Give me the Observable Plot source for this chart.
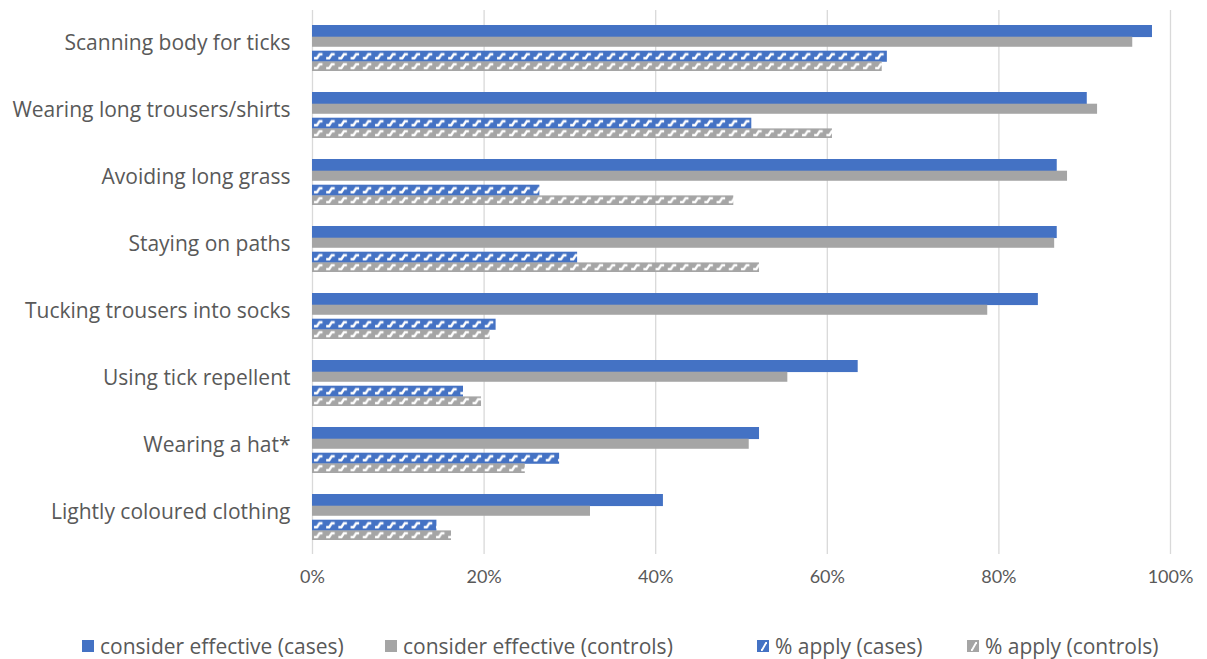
<!DOCTYPE html>
<html>
<head>
<meta charset="utf-8">
<script src="https://cdn.jsdelivr.net/npm/d3@7"></script>
<script src="https://cdn.jsdelivr.net/npm/@observablehq/plot@0.6"></script>
<style>
  html, body { margin: 0; padding: 0; background: #fff; }
  #wrap { position: relative; width: 1207px; height: 659px; font-family: "Open Sans", Lato, sans-serif; }
  #legend { position: absolute; left: 0; top: 632px; width: 1207px; height: 27px; color: #595959; font-size: 21px; }
  .item { position: absolute; top: 0; display: flex; align-items: center; white-space: nowrap; }
  .item svg { margin-right: 6px; }
</style>
</head>
<body>
<div id="wrap">
  <div id="chart"></div>
  <div id="legend"></div>
</div>
<script>
const categories = [
  "Scanning body for ticks",
  "Wearing long trousers/shirts",
  "Avoiding long grass",
  "Staying on paths",
  "Tucking trousers into socks",
  "Using tick repellent",
  "Wearing a hat*",
  "Lightly coloured clothing"
];
const considerCases    = [97.9, 90.3, 86.8, 86.8, 84.6, 63.6, 52.1, 40.9];
const considerControls = [95.6, 91.5, 88.0, 86.5, 78.7, 55.4, 50.9, 32.4];
const applyCases       = [67.0, 51.2, 26.5, 30.9, 21.4, 17.6, 28.8, 14.5];
const applyControls    = [66.4, 60.6, 49.1, 52.1, 20.7, 19.7, 24.8, 16.2];
const xTicks = [0, 20, 40, 60, 80, 100];
const seriesNames = ["consider effective (cases)", "consider effective (controls)", "% apply (cases)", "% apply (controls)"];

const BLUE = "#4472C4", GRAY = "#A5A5A5";

const rows = (vals) => categories.map((c, i) => ({category: c, value: vals[i]}));

// band layout within each category
const step = 67.1, pInner = 0.32, pOuter = 0.213;
const B = step * (1 - pInner);
const slots = [[0, 11.7], [11.7, 21.4], [25.7, 36.4], [36.4, B]];
const inset = (k) => ({insetTop: slots[k][0], insetBottom: B - slots[k][1]});

const chart = Plot.plot({
  width: 1207,
  height: 610,
  marginLeft: 312,
  marginRight: 37,
  marginTop: 10,
  marginBottom: 56,
  style: {fontFamily: "'Open Sans', Lato, sans-serif", fontSize: "18px", color: "#595959", background: "#fff"},
  x: {domain: [0, 100]},
  y: {domain: categories, paddingInner: pInner, paddingOuter: pOuter},
  marks: [
    Plot.gridX(xTicks, {stroke: "#d9d9d9", strokeOpacity: 1, strokeWidth: 1.3}),
    Plot.barX(rows(considerCases), {x: "value", y: "category", fill: BLUE, ...inset(0)}),
    Plot.barX(rows(considerControls), {x: "value", y: "category", fill: GRAY, ...inset(1)}),
    Plot.barX(rows(applyCases), {x: "value", y: "category", fill: BLUE, className: "hatch-blue", ...inset(2)}),
    Plot.barX(rows(applyControls), {x: "value", y: "category", fill: GRAY, className: "hatch-gray", ...inset(3)}),
    Plot.axisX(xTicks, {tickSize: 0, tickPadding: 16, tickFormat: d => d + "%", label: null, fill: "#595959", fontSize: 18, fontFamily: "Lato, sans-serif"}),
    Plot.axisY({tickSize: 0, tickPadding: 22, label: null, fill: "#595959", fontSize: 21, dy: -5})
  ]
});
document.getElementById("chart").appendChild(chart);

// hatch patterns, one per bar aligned to its top edge
const ns = "http://www.w3.org/2000/svg";
const defs = document.createElementNS(ns, "defs");
chart.insertBefore(defs, chart.firstChild);
let pid = 0;
function hatchFor(rect, color) {
  const y = +rect.getAttribute("y");
  const h = +rect.getAttribute("height");
  const x = +rect.getAttribute("x");
  const id = "hatch" + (pid++);
  const p = document.createElementNS(ns, "pattern");
  p.setAttribute("id", id);
  p.setAttribute("patternUnits", "userSpaceOnUse");
  p.setAttribute("x", x + 1);
  p.setAttribute("y", y);
  p.setAttribute("width", 12.2);
  p.setAttribute("height", h);
  const bg = document.createElementNS(ns, "rect");
  bg.setAttribute("width", 12.2); bg.setAttribute("height", h); bg.setAttribute("fill", color);
  p.appendChild(bg);
  const m = h / 2;
  const path = document.createElementNS(ns, "path");
  path.setAttribute("d", `M1,${m + 2} H4 L6.5,${m - 2} H9.5`);
  path.setAttribute("stroke", "#fff");
  path.setAttribute("stroke-width", 2.4);
  path.setAttribute("fill", "none");
  p.appendChild(path);
  defs.appendChild(p);
  rect.setAttribute("fill", `url(#${id})`);
}
chart.querySelectorAll(".hatch-blue rect").forEach(r => hatchFor(r, BLUE));
chart.querySelectorAll(".hatch-gray rect").forEach(r => hatchFor(r, GRAY));

// legend
const legendPos = [82, 385, 757, 967];
const legendFill = [BLUE, GRAY, BLUE, GRAY];
const legendHatch = [false, false, true, true];
const legend = document.getElementById("legend");
seriesNames.forEach((name, i) => {
  const item = document.createElement("div");
  item.className = "item";
  item.style.left = legendPos[i] + "px";
  const hatch = legendHatch[i]
    ? `<path d="M4,10 L5,10 L9,3 L10,3" stroke="#fff" stroke-width="1.8" fill="none"/>`
    : "";
  item.innerHTML = `<svg width="12" height="12"><rect width="12" height="12" fill="${legendFill[i]}"/>${hatch}</svg><span>${name}</span>`;
  legend.appendChild(item);
});
</script>
</body>
</html>
